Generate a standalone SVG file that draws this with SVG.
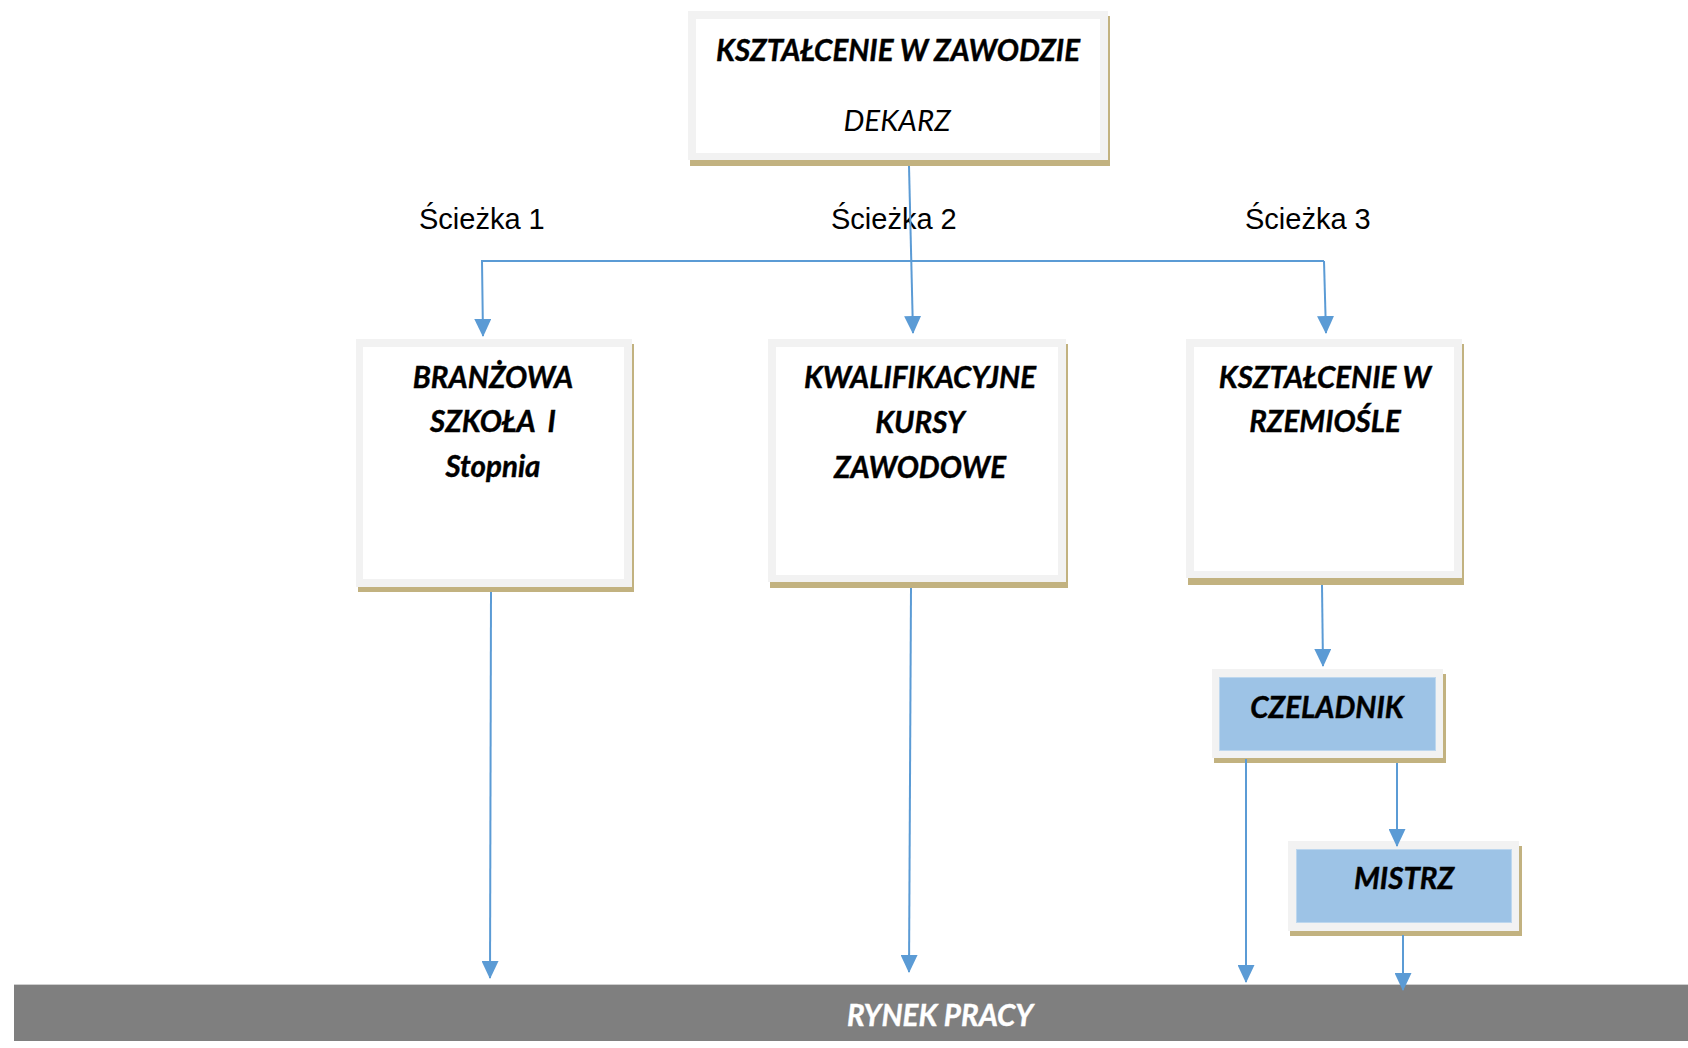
<svg xmlns="http://www.w3.org/2000/svg" width="1688" height="1048" viewBox="0 0 1688 1048">
<defs>
<marker id="ah" markerWidth="18" markerHeight="17" viewBox="0 0 18 17" refX="17" refY="8.5" orient="auto" markerUnits="userSpaceOnUse">
<path d="M0,0 L18,8.5 L0,17 Z" fill="#5b9bd5"/>
</marker>
<style>
.shadow{fill:#c2b280;}
.frame{fill:#f2f2f2;}
.inner{fill:#ffffff;}
.blue{fill:#9dc3e6;stroke:#bdd7ee;stroke-width:1;}
.t{font-family:Lato,"Open Sans","Noto Sans",sans-serif;font-weight:bold;font-style:italic;font-size:29.5px;fill:#000;text-anchor:middle;white-space:pre;stroke:#000;stroke-width:0.4px;}
.ti{font-family:Lato,"Open Sans","Noto Sans",sans-serif;font-style:italic;font-size:29.5px;fill:#000;text-anchor:middle;}
.lbl{font-family:"Liberation Sans",Arial,sans-serif;font-size:29px;fill:#000;}
.c{fill:none;stroke:#5b9bd5;stroke-width:2;}
</style>
</defs>
<rect x="0" y="0" width="1688" height="1048" fill="#ffffff"/>

<g id="rynek">
<rect x="14" y="984" width="1674" height="57" fill="#7f7f7f"/>
<line x1="14" y1="984.5" x2="1688" y2="984.5" stroke="#cfcfcf" stroke-width="1"/>
<text class="t" x="940" y="1026" style="fill:#ffffff;stroke:#ffffff">RYNEK PRACY</text>
</g>

<g id="top">
<rect class="shadow" x="690" y="16" width="420" height="150"/>
<rect class="frame" x="688" y="11" width="420" height="149"/>
<rect class="inner" x="696" y="19" width="404" height="134"/>
<text class="t" x="898" y="61">KSZTAŁCENIE W ZAWODZIE</text>
<text class="ti" x="897" y="131">DEKARZ</text>
</g>

<g id="labels">
<text class="lbl" x="419" y="229">Ścieżka 1</text>
<text class="lbl" x="831" y="229">Ścieżka 2</text>
<text class="lbl" x="1245" y="229">Ścieżka 3</text>
</g>

<g id="branzowa">
<rect class="shadow" x="358" y="344" width="276" height="248"/>
<rect class="frame" x="356" y="339" width="276" height="248"/>
<rect class="inner" x="363" y="347" width="261" height="232"/>
<text class="t" x="493" y="388">BRANŻOWA</text>
<text class="t" x="493" y="432">SZKOŁA  I</text>
<text class="t" x="493" y="477">Stopnia</text>
</g>

<g id="kursy">
<rect class="shadow" x="770" y="344" width="298" height="244"/>
<rect class="frame" x="768" y="339" width="298" height="243"/>
<rect class="inner" x="776" y="347" width="282" height="228"/>
<text class="t" x="920" y="388">KWALIFIKACYJNE</text>
<text class="t" x="920" y="433">KURSY</text>
<text class="t" x="920" y="478">ZAWODOWE</text>
</g>

<g id="rzemioslo">
<rect class="shadow" x="1188" y="344" width="276" height="241"/>
<rect class="frame" x="1186" y="339" width="276" height="239"/>
<rect class="inner" x="1194" y="347" width="260" height="224"/>
<text class="t" x="1325" y="388">KSZTAŁCENIE W</text>
<text class="t" x="1325" y="432">RZEMIOŚLE</text>
</g>

<g id="czeladnik">
<rect class="shadow" x="1214" y="674" width="232" height="89"/>
<rect class="frame" x="1212" y="669" width="231" height="89"/>
<rect class="blue" x="1219.5" y="677.5" width="216" height="73"/>
<text class="t" x="1327" y="718">CZELADNIK</text>
</g>

<g id="mistrz">
<rect class="shadow" x="1290" y="846" width="232" height="90"/>
<rect class="frame" x="1288" y="841" width="231" height="90"/>
<rect class="blue" x="1296.5" y="849.5" width="215" height="73"/>
<text class="t" x="1404" y="889">MISTRZ</text>
</g>

<g id="connectors">
<polyline class="c" points="1324,261 482,261 483,336" marker-end="url(#ah)"/>
<line class="c" x1="1324" y1="261" x2="1326" y2="333" marker-end="url(#ah)"/>
<line class="c" x1="909" y1="166" x2="913" y2="333" marker-end="url(#ah)"/>
<line class="c" x1="491" y1="592" x2="490" y2="978" marker-end="url(#ah)"/>
<line class="c" x1="911" y1="588" x2="909" y2="972" marker-end="url(#ah)"/>
<line class="c" x1="1322" y1="585" x2="1323" y2="666" marker-end="url(#ah)"/>
<line class="c" x1="1246" y1="759" x2="1246" y2="982" marker-end="url(#ah)"/>
<line class="c" x1="1397" y1="763" x2="1397" y2="846" marker-end="url(#ah)"/>
<line class="c" x1="1403" y1="935" x2="1403" y2="990" marker-end="url(#ah)"/>
</g>
</svg>
